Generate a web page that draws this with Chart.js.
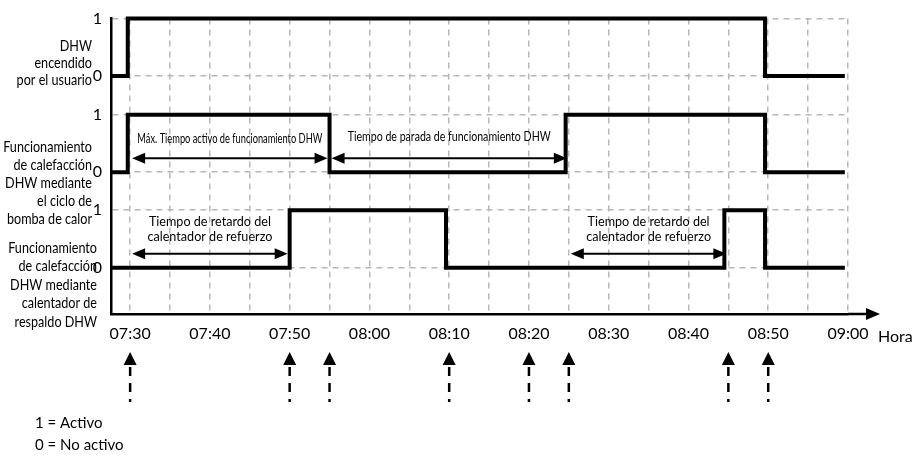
<!DOCTYPE html>
<html>
<head>
<meta charset="utf-8">
<script src="https://cdn.jsdelivr.net/npm/chart.js@4.4.0/dist/chart.umd.min.js"></script>
<style>
  html, body { margin: 0; padding: 0; background: #fff; }
  #wrap { width: 916px; height: 455px; }
</style>
</head>
<body>
<div id="wrap"><canvas id="grafico" width="916" height="455"></canvas></div>
<script>
// tiempos en minutos desde medianoche (07:30 = 450)
const xMin = 447.6;
const xMax = 540;
const tickTimes = [450, 455, 460, 465, 470, 475, 480, 485, 490, 495, 500, 505, 510, 515, 520, 525, 530, 535, 540];
const tickLabels = ["07:30", "", "07:40", "", "07:50", "", "08:00", "", "08:10", "", "08:20", "", "08:30", "", "08:40", "", "08:50", "", "09:00"];

// niveles de cada fila en el eje y
const rowBase = [3.33, 1.66, 0];
const yTicks = [0, 1, 1.66, 2.66, 3.33, 4.33];
const yTickLabels = ["0", "1", "0", "1", "0", "1"];

const rowNames = [
  ["DHW", "encendido", "por el usuario"],
  ["Funcionamiento", "de calefacción", "DHW mediante", "el ciclo de", "bomba de calor"],
  ["Funcionamiento", "de calefacción", "DHW mediante", "calentador de", "respaldo DHW"]
];

// señales (estado a partir de cada instante)
const dhwTimes = [447.6, 449.7, 529.6, 539.6];
const dhwStates = [0, 1, 0, 0];
const hpTimes = [447.6, 449.7, 475, 504.6, 529.6, 539.6];
const hpStates = [0, 1, 0, 1, 0, 0];
const backupTimes = [447.6, 470, 489.6, 524.5, 529.6, 539.6];
const backupStates = [0, 1, 0, 1, 0, 0];

// intervalos con flecha doble
const spanFrom = [450, 475, 450, 505];
const spanTo = [475, 505, 470, 525];
const spanRow = [1, 1, 2, 2];
const spanText = [
  ["Máx. Tiempo activo de funcionamiento DHW"],
  ["Tiempo de parada de funcionamiento DHW"],
  ["Tiempo de retardo del", "calentador de refuerzo"],
  ["Tiempo de retardo del", "calentador de refuerzo"]
];

// eventos marcados con flechas bajo el eje
const eventTimes = [450, 470, 475, 490, 500, 505, 525, 530];

const legendLines = ["1 = Activo", "0 = No activo"];

const FONT = "Lato, 'Noto Sans', sans-serif";

const toPoints = (times, states, row) =>
  times.map((t, i) => ({ x: t, y: states[i] + rowBase[row] }));

const lineSet = (times, states, row) => ({
  data: toPoints(times, states, row),
  borderColor: "#000",
  borderWidth: 4,
  pointRadius: 0,
  stepped: "before",
  fill: false,
  clip: false,
  borderCapStyle: "butt",
  borderJoinStyle: "miter"
});

// punta de flecha horizontal (dir = 1 derecha, -1 izquierda)
function arrowH(ctx, x, y, dir, len, half) {
  ctx.beginPath();
  ctx.moveTo(x, y);
  ctx.lineTo(x - dir * len, y - half);
  ctx.lineTo(x - dir * len, y + half);
  ctx.closePath();
  ctx.fill();
}

// punta de flecha hacia arriba
function arrowUp(ctx, x, y, len, half) {
  ctx.beginPath();
  ctx.moveTo(x, y);
  ctx.lineTo(x - half, y + len);
  ctx.lineTo(x + half, y + len);
  ctx.closePath();
  ctx.fill();
}

function condensed(ctx, s, x, y, sx) {
  ctx.save();
  ctx.translate(x, y);
  ctx.scale(sx, 1);
  ctx.fillText(s, 0, 0);
  ctx.restore();
}

const extras = {
  id: "extras",
  afterDraw(chart) {
    const { ctx, chartArea, scales } = chart;
    const x = scales.x;
    const y = scales.y;
    ctx.save();
    ctx.fillStyle = "#000";
    ctx.strokeStyle = "#000";

    // prolongación del eje x con flecha
    ctx.lineWidth = 2.5;
    ctx.beginPath();
    ctx.moveTo(chartArea.right, chartArea.bottom);
    ctx.lineTo(chartArea.right + 22, chartArea.bottom);
    ctx.stroke();
    arrowH(ctx, chartArea.right + 32, chartArea.bottom, 1, 14, 6);

    ctx.font = "16px " + FONT;
    ctx.textAlign = "left";
    ctx.textBaseline = "middle";
    ctx.fillText("Hora", chartArea.right + 30, chartArea.bottom + 23);

    // nombres de las filas
    const labelCenters = [63, 183, 285];
    const labelRight = [92, 92, 97];
    const lineH = [17, 18, 18.5];
    ctx.font = "15px " + FONT;
    ctx.textAlign = "right";
    rowNames.forEach((lines, r) => {
      const top = labelCenters[r] - (lines.length - 1) * lineH[r] / 2;
      lines.forEach((s, i) => condensed(ctx, s, labelRight[r], top + i * lineH[r], 0.84));
    });

    // flechas dobles con texto
    const narrowWidth = [185, 203];
    ctx.lineWidth = 2;
    spanFrom.forEach((t, i) => {
      const x1 = x.getPixelForValue(t) + 2;
      const x2 = x.getPixelForValue(spanTo[i]) - 2;
      const ay = y.getPixelForValue(rowBase[spanRow[i]] + 0.24);
      ctx.beginPath();
      ctx.moveTo(x1 + 8, ay);
      ctx.lineTo(x2 - 8, ay);
      ctx.stroke();
      arrowH(ctx, x1, ay, -1, 13, 5.5);
      arrowH(ctx, x2, ay, 1, 13, 5.5);
      const cx = (x1 + x2) / 2;
      ctx.textAlign = "center";
      ctx.textBaseline = "middle";
      const lines = spanText[i];
      if (spanRow[i] === 1) {
        ctx.font = (i === 0 ? "13px " : "14px ") + FONT;
        ctx.fillText(lines[0], cx, ay - (i === 0 ? 20 : 22), narrowWidth[i]);
      } else {
        ctx.font = "14px " + FONT;
        lines.forEach((s, k) => condensed(ctx, s, cx, ay - 32 + k * 15, 0.9));
      }
    });

    // flechas discontinuas de eventos
    const tipY = chartArea.bottom + 38;
    eventTimes.forEach((t) => {
      const ex = x.getPixelForValue(t);
      arrowUp(ctx, ex, tipY, 13, 6.5);
      ctx.lineWidth = 2.5;
      ctx.setLineDash([9, 7]);
      ctx.beginPath();
      ctx.moveTo(ex, tipY + 15);
      ctx.lineTo(ex, tipY + 50);
      ctx.stroke();
      ctx.setLineDash([]);
    });

    // leyenda
    ctx.font = "15px " + FONT;
    ctx.textAlign = "left";
    ctx.textBaseline = "middle";
    legendLines.forEach((s, i) => ctx.fillText(s, 35, 423 + i * 22));

    ctx.restore();
  }
};

new Chart(document.getElementById("grafico"), {
  type: "line",
  data: {
    datasets: [
      lineSet(dhwTimes, dhwStates, 0),
      lineSet(hpTimes, hpStates, 1),
      lineSet(backupTimes, backupStates, 2)
    ]
  },
  options: {
    responsive: false,
    animation: false,
    layout: { padding: { top: 14, right: 68, bottom: 0, left: 0 } },
    plugins: { legend: { display: false }, tooltip: { enabled: false } },
    scales: {
      x: {
        type: "linear",
        min: xMin,
        max: xMax,
        afterBuildTicks: (s) => { s.ticks = tickTimes.map((v) => ({ value: v })); },
        afterFit: (s) => { s.height = 141; },
        ticks: {
          autoSkip: false,
          maxRotation: 0,
          padding: 10,
          color: "#000",
          font: { family: FONT, size: 16 },
          callback: (v, i) => tickLabels[i]
        },
        grid: { color: "#b8b8b8", lineWidth: 1.5, drawTicks: false },
        border: { display: true, color: "#000", width: 2.5, dash: [6, 5] }
      },
      y: {
        type: "linear",
        min: -0.806,
        max: 4.33,
        afterBuildTicks: (s) => { s.ticks = yTicks.map((v) => ({ value: v })); },
        afterFit: (s) => { s.width = 111; },
        ticks: {
          padding: 9,
          color: "#000",
          font: { family: FONT, size: 16 },
          callback: (v, i) => yTickLabels[i]
        },
        grid: { color: "#b8b8b8", lineWidth: 1.5, drawTicks: false },
        border: { display: true, color: "#000", width: 2.5, dash: [6, 5] }
      }
    }
  },
  plugins: [extras]
});
</script>
</body>
</html>
